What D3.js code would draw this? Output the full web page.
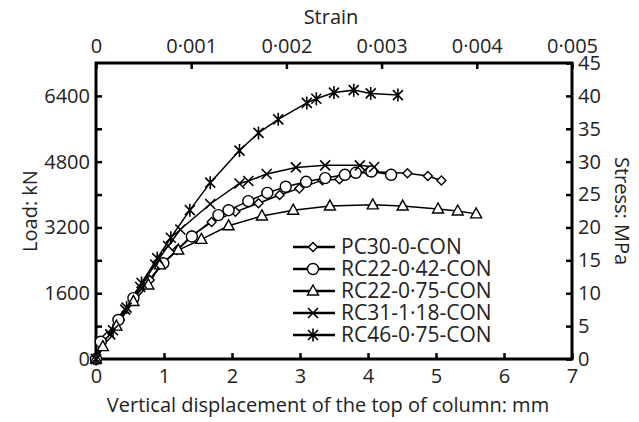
<!DOCTYPE html>
<html>
<head>
<meta charset="utf-8">
<script src="https://cdnjs.cloudflare.com/ajax/libs/d3/7.8.5/d3.min.js"></script>
<style>
  body { margin: 0; background: #fff; }
  text { font-family: "Open Sans", sans-serif; fill: #222; }
</style>
</head>
<body>
<div id="chart"></div>
<script>
// displacement (mm) / load (kN) pairs for each column
var pc30 = [[0,0],[0.08,420],[0.16,540],[0.35,950],[0.55,1480],[0.79,1920],[0.99,2330],[1.19,2650],[1.41,3010],[1.7,3330],[2.05,3580],[2.39,3790],[2.70,3990],[2.99,4150],[3.33,4350],[3.58,4370],[4.0,4560],[4.58,4520],[4.88,4450],[5.08,4340]];
var rc22_042 = [[0,0],[0.07,420],[0.33,950],[0.55,1480],[0.99,2330],[1.41,2980],[1.80,3500],[1.95,3620],[2.24,3840],[2.52,4040],[2.79,4190],[3.09,4310],[3.37,4400],[3.66,4480],[3.82,4530],[4.05,4560],[4.34,4480]];
var rc22_075 = [[0,0],[0.1,300],[0.3,800],[0.55,1400],[0.77,1800],[0.94,2290],[1.21,2650],[1.55,2910],[1.95,3240],[2.44,3480],[2.90,3620],[3.44,3720],[4.07,3750],[4.51,3720],[5.03,3650],[5.32,3600],[5.59,3530]];
var rc31 = [[0,0],[0.21,600],[0.43,1200],[0.65,1750],[0.87,2300],[1.06,2750],[1.24,3150],[1.68,3770],[2.11,4270],[2.24,4330],[2.51,4500],[2.94,4660],[3.37,4710],[3.88,4710],[4.09,4670]];
var rc46 = [[0,0],[0.25,700],[0.45,1250],[0.67,1850],[0.9,2450],[1.1,2950],[1.38,3620],[1.68,4290],[2.11,5070],[2.39,5500],[2.68,5830],[3.1,6230],[3.24,6330],[3.5,6480],[3.79,6540],[4.04,6460],[4.44,6420]];

var seriesNames = ["PC30-0-CON", "RC22-0\u00b742-CON", "RC22-0\u00b775-CON", "RC31-1\u00b718-CON", "RC46-0\u00b775-CON"];
var seriesData = [pc30, rc22_042, rc22_075, rc31, rc46];
var seriesMarks = ["diamond", "circle", "triangle", "cross", "star"];

var loadTicks = [0, 1600, 3200, 4800, 6400];
var loadMinor = [800, 2400, 4000, 5600];
var stressTicks = [0, 5, 10, 15, 20, 25, 30, 35, 40, 45];
var dispTicks = [0, 1, 2, 3, 4, 5, 6, 7];
var strainTicks = [0, 0.001, 0.002, 0.003, 0.004, 0.005];

var W = 639, H = 422;
var margin = {top: 63, right: 67, bottom: 63, left: 96};
var width = W - margin.left - margin.right;
var height = H - margin.top - margin.bottom;

var svg = d3.select("#chart").append("svg")
    .attr("width", W)
    .attr("height", H);

var g = svg.append("g")
    .attr("transform", "translate(" + margin.left + "," + margin.top + ")");

var x = d3.scaleLinear().domain([0, 7]).range([0, width]);
var xTop = d3.scaleLinear().domain([0, 0.005]).range([0, width]);
var y = d3.scaleLinear().domain([0, 7200]).range([height, 0]);
var yRight = d3.scaleLinear().domain([0, 45]).range([height, 0]);

function fmt(v) { return String(v).replace(".", "\u00b7"); }

var fs = "20px";

// axes, ticks pointing inward
var axB = g.append("g").attr("transform", "translate(0," + height + ")")
    .call(d3.axisBottom(x).tickValues(dispTicks).tickSize(-6).tickPadding(10).tickFormat(d3.format("d")));
var axT = g.append("g")
    .call(d3.axisTop(xTop).tickValues(strainTicks).tickSize(-6).tickPadding(10).tickFormat(fmt));
var axL = g.append("g")
    .call(d3.axisLeft(y).tickValues(loadTicks.concat(loadMinor)).tickSize(-6).tickPadding(6)
        .tickFormat(function(d) { return loadTicks.indexOf(d) >= 0 ? d : ""; }));
var axR = g.append("g").attr("transform", "translate(" + width + ",0)")
    .call(d3.axisRight(yRight).tickValues(stressTicks).tickSize(-6).tickPadding(6));

[axB, axT, axL, axR].forEach(function(a) {
    a.select(".domain").remove();
    a.selectAll("line").attr("stroke", "#000").attr("stroke-width", 2.5);
    a.selectAll("text").style("font-size", fs).style("fill", "#222");
});

g.append("rect")
    .attr("width", width).attr("height", height)
    .attr("fill", "none").attr("stroke", "#000").attr("stroke-width", 3);

// axis titles
svg.append("text").attr("x", 331).attr("y", 24).attr("text-anchor", "middle")
    .style("font-size", fs).text("Strain");
svg.append("text").attr("x", 328).attr("y", 412).attr("text-anchor", "middle")
    .style("font-size", fs).text("Vertical displacement of the top of column: mm");
svg.append("text").attr("transform", "translate(37," + (margin.top + height / 2) + ") rotate(-90)")
    .attr("text-anchor", "middle").style("font-size", fs).text("Load: kN");
svg.append("text").attr("transform", "translate(615," + (margin.top + height / 2) + ") rotate(90)")
    .attr("text-anchor", "middle").style("font-size", fs).text("Stress: MPa");

// markers
function drawMark(sel, type) {
    if (type === "diamond") {
        sel.append("path").attr("d", "M0,-4.5L4.5,0L0,4.5L-4.5,0Z")
            .attr("fill", "#fff").attr("stroke", "#000").attr("stroke-width", 1.4);
    } else if (type === "circle") {
        sel.append("circle").attr("r", 5.5)
            .attr("fill", "#fff").attr("stroke", "#000").attr("stroke-width", 1.4);
    } else if (type === "triangle") {
        sel.append("path").attr("d", "M0,-6L5.5,4L-5.5,4Z")
            .attr("fill", "#fff").attr("stroke", "#000").attr("stroke-width", 1.4);
    } else if (type === "cross") {
        sel.append("path").attr("d", "M-5,-5L5,5M-5,5L5,-5")
            .attr("stroke", "#000").attr("stroke-width", 1.6);
    } else {
        sel.append("path").attr("d", "M-5,-5L5,5M-5,5L5,-5M0,-6.5L0,6.5")
            .attr("stroke", "#000").attr("stroke-width", 1.6);
    }
}

var line = d3.line()
    .x(function(d) { return x(d[0]); })
    .y(function(d) { return y(d[1]); });

seriesData.forEach(function(data, i) {
    g.append("path").datum(data)
        .attr("fill", "none").attr("stroke", "#000").attr("stroke-width", 1.5)
        .attr("d", line);
});
seriesData.forEach(function(data, i) {
    g.selectAll(".m" + i).data(data).enter().append("g")
        .attr("class", "m" + i)
        .attr("transform", function(d) { return "translate(" + x(d[0]) + "," + y(d[1]) + ")"; })
        .each(function() { drawMark(d3.select(this), seriesMarks[i]); });
});

// legend
var leg = svg.append("g").attr("transform", "translate(293,247)");
seriesNames.forEach(function(name, i) {
    var row = leg.append("g").attr("transform", "translate(0," + (i * 22) + ")");
    row.append("line").attr("x1", 0).attr("x2", 42).attr("stroke", "#000").attr("stroke-width", 2.5);
    var m = row.append("g").attr("transform", "translate(20,0)");
    drawMark(m, seriesMarks[i]);
    row.append("text").attr("x", 48).attr("y", 7).style("font-size", "21px").text(name);
});
</script>
</body>
</html>
